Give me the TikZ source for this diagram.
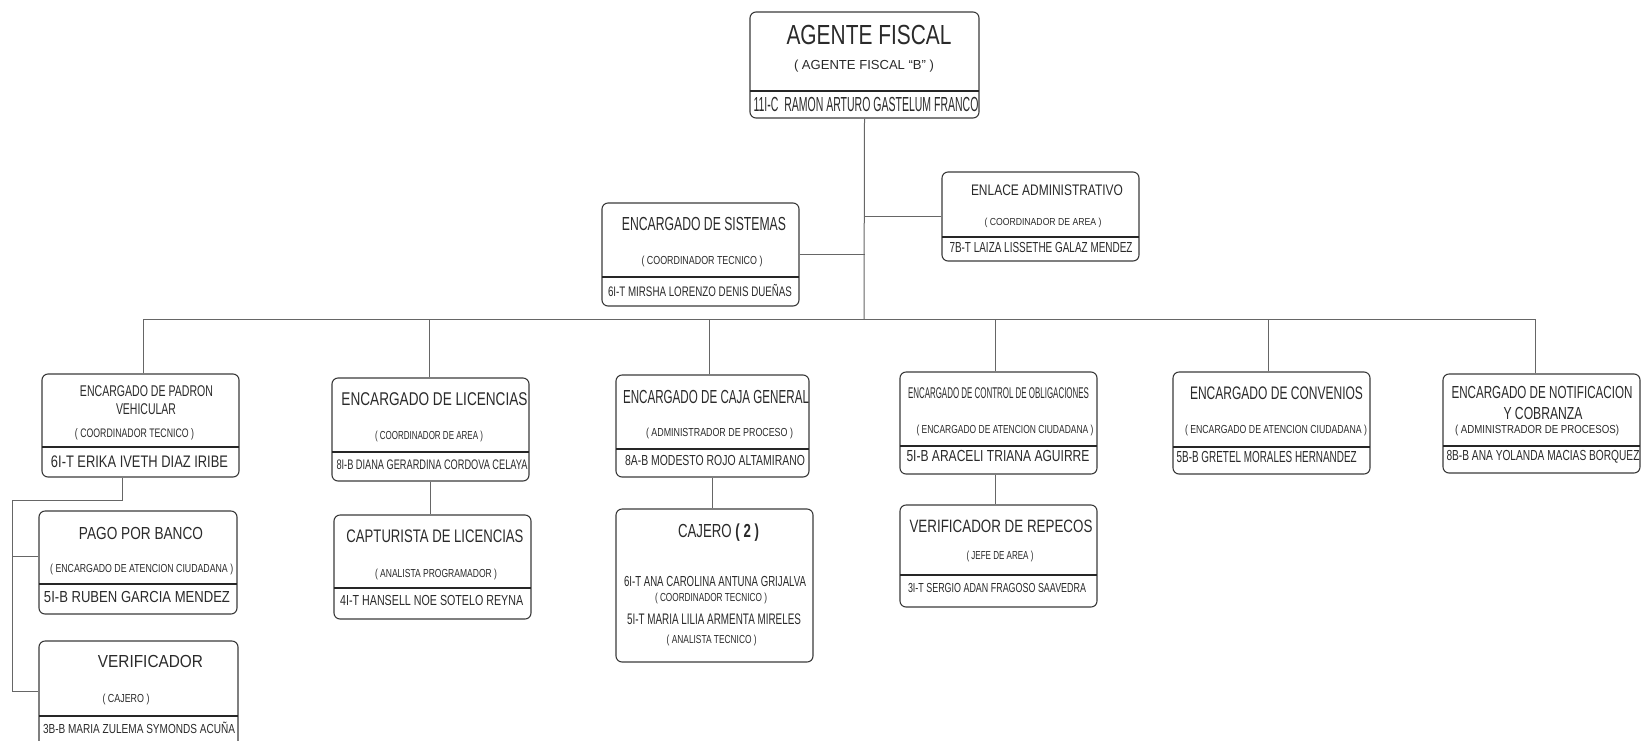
\documentclass[tikz,border=0pt]{standalone}
\usepackage{fontspec}
\setmainfont{Liberation Sans}
\usepackage{graphicx}

\definecolor{boxgray}{HTML}{3A3A3A}
\definecolor{lingray}{HTML}{666666}
\definecolor{txtgray}{HTML}{2A2A2A}

% squeeze a line of text to a width and a cap height
\newcommand{\fitt}[3]{\resizebox{#1pt}{#2pt}{\raisebox{0pt}[\fontcharht\font`E][0pt]{#3}}}

\begin{document}
\begin{tikzpicture}[x=1pt,y=-1pt,
  box/.style={draw=boxgray, line width=1.1pt, rounded corners=6pt, minimum width=197pt, inner sep=0pt},
  txt/.style={anchor=base, inner sep=0pt, text=txtgray},
  sep/.style={line width=2pt, draw=black!85},
  con/.style={line width=1pt, draw=lingray}]
\useasboundingbox (0,0) rectangle (1641,740);

% agente fiscal
\node[box, minimum width=229pt, minimum height=106pt] (agente) at (864.5,65) {};
\draw[sep] (750,91) -- (979,91);
\node[txt] (agente-t) at (869,44) {\fitt{165}{19}{AGENTE FISCAL}};
\node[txt] (agente-s) at (864,69.5) {\fitt{140}{9}{( AGENTE FISCAL “B” )}};
\node[txt] (agente-n) at (866,111) {\fitt{225}{14}{11I-C~~RAMON ARTURO GASTELUM FRANCO}};

% sistemas y enlace
\node[box, minimum height=103pt] (sistemas) at (700.5,254.5) {};
\draw[sep] (602,277) -- (799,277);
\node[txt] (sistemas-t) at (704,230.5) {\fitt{164}{13}{ENCARGADO DE SISTEMAS}};
\node[txt] (sistemas-s) at (702,264) {\fitt{121}{8}{( COORDINADOR TECNICO )}};
\node[txt] (sistemas-n) at (700,296) {\fitt{184}{9.5}{6I-T MIRSHA LORENZO DENIS DUEÑAS}};

\node[box, minimum height=89pt] (enlace) at (1040.5,216.5) {};
\draw[sep] (942,237) -- (1139,237);
\node[txt] (enlace-t) at (1047,195) {\fitt{152}{10.5}{ENLACE ADMINISTRATIVO}};
\node[txt] (enlace-s) at (1043,225.5) {\fitt{117}{7}{( COORDINADOR DE AREA )}};
\node[txt] (enlace-n) at (1041,252) {\fitt{183}{10}{7B-T LAIZA LISSETHE GALAZ MENDEZ}};

% fila de encargados
\node[box, minimum height=103pt] (padron) at (140.5,425.5) {};
\draw[sep] (42,447) -- (239,447);
\node[txt] (padron-t) at (146.5,396) {\fitt{133}{10.7}{ENCARGADO DE PADRON}};
\node[txt] (padron-u) at (146,414) {\fitt{60}{10.7}{VEHICULAR}};
\node[txt] (padron-s) at (134.5,437) {\fitt{119}{8.5}{( COORDINADOR TECNICO )}};
\node[txt] (padron-n) at (139.5,467) {\fitt{177}{11.5}{6I-T ERIKA IVETH DIAZ IRIBE}};

\node[box, minimum height=103pt] (licencias) at (430.5,429.5) {};
\draw[sep] (332,452) -- (529,452);
\node[txt] (licencias-t) at (434.5,405) {\fitt{186}{12.7}{ENCARGADO DE LICENCIAS}};
\node[txt] (licencias-s) at (429,439.5) {\fitt{108}{8}{( COORDINADOR DE AREA )}};
\node[txt] (licencias-n) at (432,469.5) {\fitt{191}{9.5}{8I-B DIANA GERARDINA CORDOVA CELAYA}};

\node[box, minimum width=193pt, minimum height=102pt] (caja) at (712.5,426) {};
\draw[sep] (616,449) -- (809,449);
\node[txt] (caja-t) at (716,403) {\fitt{186}{13}{ENCARGADO DE CAJA GENERAL}};
\node[txt] (caja-s) at (719.5,436) {\fitt{147}{8}{( ADMINISTRADOR DE PROCESO )}};
\node[txt] (caja-n) at (715,465.5) {\fitt{180}{10}{8A-B MODESTO ROJO ALTAMIRANO}};

\node[box, minimum height=102pt] (control) at (998.5,423) {};
\draw[sep] (900,446) -- (1097,446);
\node[txt] (control-t) at (998.5,398) {\fitt{181}{10.7}{ENCARGADO DE CONTROL DE OBLIGACIONES}};
\node[txt] (control-s) at (1005,433) {\fitt{177}{8}{( ENCARGADO DE ATENCION CIUDADANA )}};
\node[txt] (control-n) at (998,461.5) {\fitt{183}{11}{5I-B ARACELI TRIANA AGUIRRE}};

\node[box, minimum height=102pt] (convenios) at (1271.5,423) {};
\draw[sep] (1173,447) -- (1370,447);
\node[txt] (convenios-t) at (1276.5,399) {\fitt{173}{12.5}{ENCARGADO DE CONVENIOS}};
\node[txt] (convenios-s) at (1276,433) {\fitt{182}{8}{( ENCARGADO DE ATENCION CIUDADANA )}};
\node[txt] (convenios-n) at (1266.7,462.5) {\fitt{180}{11}{5B-B GRETEL MORALES HERNANDEZ}};

\node[box, minimum height=99pt] (notif) at (1541.5,423.5) {};
\draw[sep] (1443,446) -- (1640,446);
\node[txt] (notif-t) at (1542,398.5) {\fitt{181}{12}{ENCARGADO DE NOTIFICACION}};
\node[txt] (notif-u) at (1543,419) {\fitt{79}{12}{Y COBRANZA}};
\node[txt] (notif-s) at (1537,433) {\fitt{164}{8}{( ADMINISTRADOR DE PROCESOS)}};
\node[txt] (notif-n) at (1543,460) {\fitt{193}{10}{8B-B ANA YOLANDA MACIAS BORQUEZ}};

% segundo nivel
\node[box, minimum width=198pt, minimum height=103pt] (pago) at (138,562.5) {};
\draw[sep] (39,584) -- (237,584);
\node[txt] (pago-t) at (141,539) {\fitt{124}{12}{PAGO POR BANCO}};
\node[txt] (pago-s) at (141.7,572) {\fitt{183}{8}{( ENCARGADO DE ATENCION CIUDADANA )}};
\node[txt] (pago-n) at (137,602) {\fitt{186}{11}{5I-B RUBEN GARCIA MENDEZ}};

\node[box, minimum width=199pt, minimum height=111pt] (verif) at (138.5,696.5) {};
\draw[sep] (39,716) -- (238,716);
\node[txt] (verif-t) at (150.5,667.5) {\fitt{105}{12}{VERIFICADOR}};
\node[txt] (verif-s) at (126,702) {\fitt{47}{8}{( CAJERO )}};
\node[txt] (verif-n) at (139,733.5) {\fitt{192}{9}{3B-B MARIA ZULEMA SYMONDS ACUÑA}};

\node[box, minimum height=104pt] (captur) at (432.5,567) {};
\draw[sep] (334,588) -- (531,588);
\node[txt] (captur-t) at (435,542) {\fitt{177}{12.5}{CAPTURISTA DE LICENCIAS}};
\node[txt] (captur-s) at (436,577.5) {\fitt{122}{8}{( ANALISTA PROGRAMADOR )}};
\node[txt] (captur-n) at (431.7,605) {\fitt{183}{10}{4I-T HANSELL NOE SOTELO REYNA}};

\node[box, minimum height=153pt] (cajero) at (714.5,585.5) {};
\node[txt] (cajero-t) at (718.5,537) {\fitt{81}{13}{CAJERO \textbf{( 2 )}}};
\node[txt] (cajero-n) at (715,586) {\fitt{182}{10}{6I-T ANA CAROLINA ANTUNA GRIJALVA}};
\node[txt] (cajero-s) at (711,601.5) {\fitt{112}{8}{( COORDINADOR TECNICO )}};
\node[txt] (cajero-m) at (714,624) {\fitt{174}{10.5}{5I-T MARIA LILIA ARMENTA MIRELES}};
\node[txt] (cajero-r) at (711.7,643.5) {\fitt{90}{8}{( ANALISTA TECNICO )}};

\node[box, minimum height=102pt] (repecos) at (998.5,556) {};
\draw[sep] (900,575) -- (1097,575);
\node[txt] (repecos-t) at (1001,532.5) {\fitt{183}{12.3}{VERIFICADOR DE REPECOS}};
\node[txt] (repecos-s) at (1000,559.7) {\fitt{67}{8}{( JEFE DE AREA )}};
\node[txt] (repecos-n) at (997,592.5) {\fitt{178}{9}{3I-T SERGIO ADAN FRAGOSO SAAVEDRA}};

% lineas
\coordinate (bus) at (864,319);
\coordinate (tap) at (12,500);
\draw[con] (agente.south) -- (bus);
\draw[con] (sistemas.east) -- (sistemas.east -| agente.south);
\draw[con] (enlace.west) -- (enlace.west -| agente.south);
\foreach \n/\d in {padron/2.5,licencias/-1.5,caja/-3.5,control/-3.5,convenios/-3.5,notif/-6.5}
  \draw[con] ([xshift=\d pt]\n.north) |- (bus);
\draw[con] ([xshift=-18.5pt]padron.south) |- (tap) |- ([yshift=5.5pt]verif.west);
\draw[con] ([yshift=6.5pt]pago.west) -| (tap);
\draw[con] (licencias.south) -- (licencias.south |- captur.north);
\draw[con] (caja.south) -- (caja.south |- cajero.north);
\draw[con] ([xshift=-3.5pt]control.south) -- ([xshift=-3.5pt]control.south |- repecos.north);
\end{tikzpicture}
\end{document}
